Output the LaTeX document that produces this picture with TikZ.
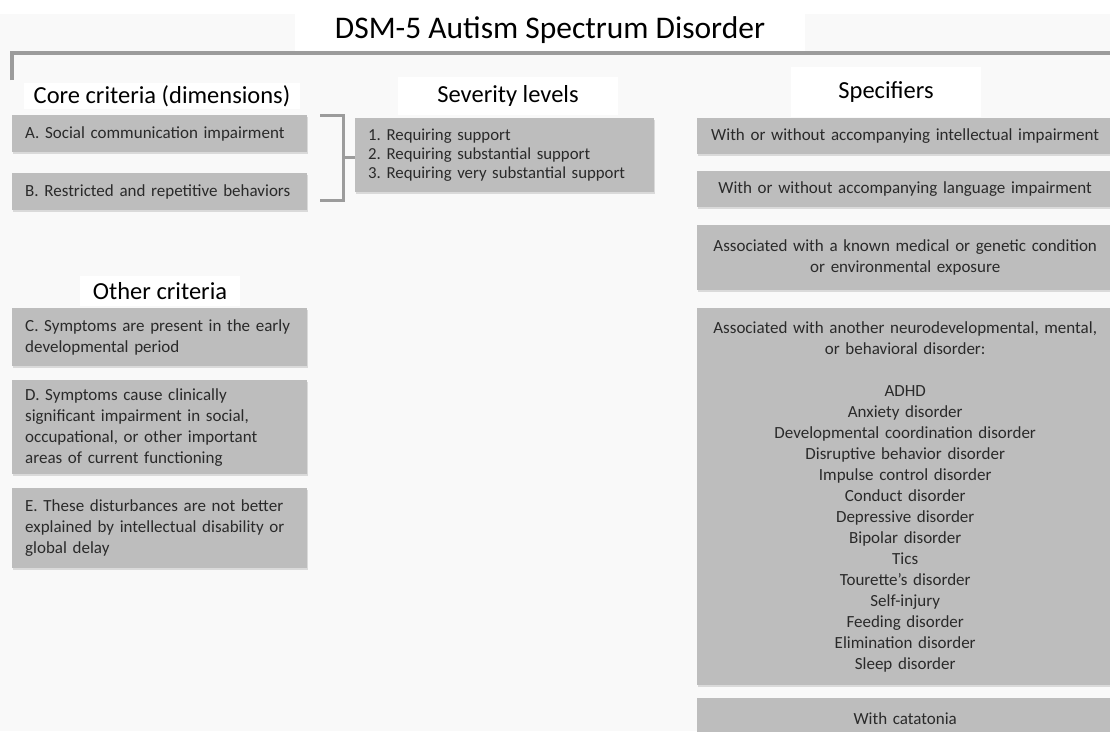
\documentclass[tikz,border=0pt]{standalone}
\usepackage{fontspec}
\setmainfont{Carlito}
\usetikzlibrary{shadows,calc}
\hyphenpenalty=10000
\exhyphenpenalty=10000
\frenchspacing
\definecolor{bg}{HTML}{F9F9F9}
\definecolor{boxgray}{HTML}{BDBDBD}
\definecolor{txt}{HTML}{2A2A2A}
\definecolor{linegray}{HTML}{9C9C9C}
\tikzset{
  gbox/.style={fill=boxgray, inner sep=0pt, text=txt, font=\fontsize{17}{21}\selectfont,
    drop shadow={opacity=0.25, shadow xshift=1pt, shadow yshift=-2pt}},
  lbox/.style={gbox, anchor=north west, minimum width=295pt, text width=269pt, align=left, inner xsep=13pt},
  sbox/.style={gbox, anchor=north west, minimum width=416pt, text width=404pt, align=center, inner xsep=6pt},
  hd/.style={fill=white, inner sep=0pt, font=\fontsize{24.5}{27}\selectfont},
  brk/.style={draw=linegray, line width=3pt}
}
\begin{document}
\begin{tikzpicture}[x=1pt,y=-1pt]
\useasboundingbox (0,0) rectangle (1110,731);
\fill[bg] (0,0) rectangle (1110,731);
\fill[white] (0,0) rectangle (1110,14);
% title
\node[hd, minimum width=510pt, minimum height=42pt, font=\fontsize{31.5}{34}\selectfont] (title) at (550,30) {DSM-5 Autism Spectrum Disorder};
\coordinate (tl) at (12,80);
\coordinate (tr) at (1112,53);
\draw[draw=linegray, line width=4pt] (tl) |- (tr);
% headings
\node[hd, minimum width=276pt, minimum height=26pt] (hcore) at (162,96) {Core criteria (dimensions)};
\node[hd, minimum width=220pt, minimum height=38pt] (hsev) at (508,96) {Severity levels};
\node[hd, minimum width=190pt, minimum height=50pt] (hspec) at (886,92) {Specifiers};
\node[hd, minimum width=160pt, minimum height=30pt] (hoth) at (160,291) {Other criteria};
% core boxes
\node[lbox, minimum height=37pt] (A) at (12,115) {A. Social communication impairment};
\node[lbox, minimum height=37pt] (B) at (12,173) {B. Restricted and repetitive behaviors};
% severity
\node[gbox, anchor=north west, minimum width=299pt, minimum height=74pt, text width=273pt, align=left, inner xsep=13pt, font=\fontsize{16.8}{18.6}\selectfont] (sev) at (355,118)
  {1. Requiring support\\2. Requiring substantial support\\3. Requiring very substantial support};
% bracket
\coordinate (jn) at (343,157);
\draw[brk] ($(A.north east)+(13,0)$) -| (jn) |- ($(B.south east)+(13,-10)$);
\draw[brk] (jn) -- (sev.west |- jn);
% other criteria
\node[lbox, minimum height=58pt] (C) at (12,308) {C. Symptoms are present in the early\\developmental period};
\node[lbox, minimum height=94pt] (D) at (12,380) {D. Symptoms cause clinically\\significant impairment in social,\\occupational, or other important\\areas of current functioning};
\node[lbox, minimum height=80pt] (E) at (12,488) {E. These disturbances are not better\\explained by intellectual disability or\\global delay};
% specifiers
\node[sbox, minimum height=36pt] (S1) at (697,118) {With or without accompanying intellectual impairment};
\node[sbox, minimum height=36pt] (S2) at (697,171) {With or without accompanying language impairment};
\node[sbox, minimum height=65pt] (S3) at (697,225) {Associated with a known medical or genetic condition\\or environmental exposure};
\node[sbox, minimum height=377pt] (S4) at (697,308) {Associated with another neurodevelopmental, mental,\\or behavioral disorder:\\[21pt]
ADHD\\Anxiety disorder\\Developmental coordination disorder\\Disruptive behavior disorder\\Impulse control disorder\\Conduct disorder\\Depressive disorder\\Bipolar disorder\\Tics\\Tourette’s disorder\\Self-injury\\Feeding disorder\\Elimination disorder\\Sleep disorder};
\node[sbox, minimum height=40pt] (S5) at (697,698) {With catatonia};
\end{tikzpicture}
\end{document}
